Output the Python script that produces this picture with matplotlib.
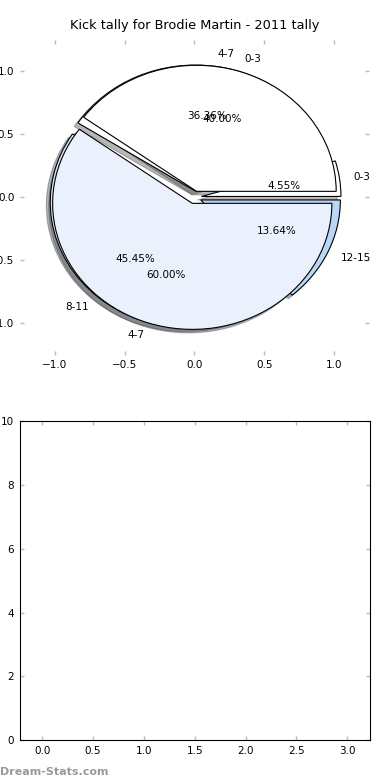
import matplotlib
matplotlib.use("Agg")
import matplotlib.pyplot as plt

# tally by kick range, 2011
labels_a = ["0-3", "4-7", "8-11", "12-15"]
values_a = [1, 8, 10, 3]
colors_a = ["#ffffff", "#ffffff", "#d2e3f8", "#b9d7f7"]

labels_b = ["0-3", "4-7"]
values_b = [2, 3]
colors_b = ["#ffffff", "#eaf1fd"]

explode = 0.05
fs = 7.5

fig = plt.figure(figsize=(3.9, 7.8), dpi=100)

ax1 = fig.add_axes([0.051, 0.545, 0.895, 0.404])
wp = {"edgecolor": "black", "linewidth": 0.8}
shadow = {"ox": -0.02, "oy": -0.02, "alpha": 0.4}
for vals, labs, cols in [(values_a, labels_a, colors_a), (values_b, labels_b, colors_b)]:
    _, texts, autotexts = ax1.pie(vals, labels=labs, colors=cols, explode=[explode] * len(vals),
                                  autopct="%.2f%%", shadow=shadow, wedgeprops=wp)
    for t in texts + autotexts:
        t.set_fontsize(fs)
ax1.set_aspect("auto")
ax1.set_xlim(-1.25, 1.25)
ax1.set_ylim(-1.25, 1.25)
ax1.set_xticks([-1.0, -0.5, 0.0, 0.5, 1.0])
ax1.set_yticks([-1.0, -0.5, 0.0, 0.5, 1.0])
ax1.set_frame_on(False)
ax1.set_title("Kick tally for Brodie Martin - 2011 tally", fontsize=9.3, pad=8)

ax2 = fig.add_axes([0.051, 0.051, 0.897, 0.409])
ax2.set_xlim(-0.22, 3.22)
ax2.set_ylim(0, 10)
ax2.set_xticks([0.0, 0.5, 1.0, 1.5, 2.0, 2.5, 3.0])
ax2.set_yticks([0, 2, 4, 6, 8, 10])
ax2.set_xticklabels(["0.0", "0.5", "1.0", "1.5", "2.0", "2.5", "3.0"])
for sp in ax2.spines.values():
    sp.set_linewidth(0.8)

for ax in (ax1, ax2):
    ax.tick_params(direction="in", length=3, width=1, color="#bbbbbb",
                   top=True, right=True, labelsize=fs, pad=4)

fig.text(0.0, 0.004, "Dream-Stats.com", fontsize=8, color="#999999", fontweight="semibold",
         ha="left", va="bottom")

fig.savefig("out.png", dpi=100)
